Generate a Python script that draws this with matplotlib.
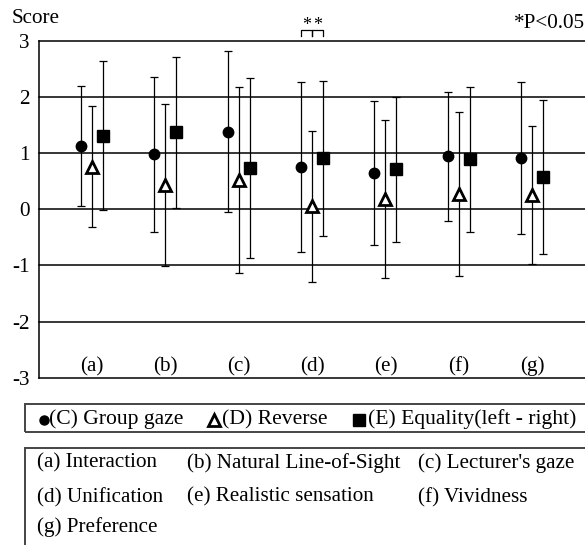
import matplotlib
matplotlib.use("Agg")
import matplotlib.pyplot as plt
import numpy as np
from matplotlib.lines import Line2D
from matplotlib.patches import Rectangle

plt.rcParams["font.family"] = ["Liberation Serif", "DejaVu Serif"]

# ---------------- data ----------------
groups = ["(a)", "(b)", "(c)", "(d)", "(e)", "(f)", "(g)"]
group_names = ["Interaction", "Natural Line-of-Sight", "Lecturer's gaze",
               "Unification", "Realistic sensation", "Vividness", "Preference"]

gaze_mean = [1.12, 0.98, 1.38, 0.75, 0.65, 0.94, 0.91]
gaze_sd = [1.07, 1.38, 1.43, 1.52, 1.28, 1.15, 1.35]

reverse_mean = [0.76, 0.43, 0.52, 0.05, 0.18, 0.27, 0.26]
reverse_sd = [1.08, 1.45, 1.66, 1.35, 1.40, 1.46, 1.23]

equal_mean = [1.31, 1.37, 0.74, 0.91, 0.71, 0.89, 0.58]
equal_sd = [1.32, 1.34, 1.60, 1.38, 1.29, 1.29, 1.37]

series_names = ["(C) Group gaze", "(D) Reverse", "(E) Equality(left - right)"]
y_ticks = [3, 2, 1, 0, -1, -2, -3]

W, H = 585, 545
FS = 15.2

fig = plt.figure(figsize=(W / 100, H / 100), dpi=100)
ax = fig.add_axes([39 / W, 1 - 377.7 / H, 1 - 39 / W, (377.7 - 40.7) / H])

x = np.arange(len(groups))
off = 0.15

styles = [
    dict(marker="o", ms=7.5, mfc="black", mec="black", mew=1),
    dict(marker="^", ms=8.5, mfc="white", mec="black", mew=2),
    dict(marker="s", ms=8, mfc="black", mec="black", mew=1),
]
means = [gaze_mean, reverse_mean, equal_mean]
sds = [gaze_sd, reverse_sd, equal_sd]

for i, (m, s, st) in enumerate(zip(means, sds, styles)):
    ax.errorbar(x + (i - 1) * off, m, yerr=s, fmt="none", ecolor="black",
                elinewidth=0.9, capsize=3, capthick=0.9, zorder=2)
    ax.plot(x + (i - 1) * off, m, linestyle="none", zorder=3, **st)

# horizontal lines
for t in y_ticks:
    ax.axhline(t, color="black", lw=1.1, zorder=1, clip_on=False)

ax.set_xlim(-0.72, 6.72)
ax.set_ylim(-3, 3)
ax.set_yticks(y_ticks)
ax.set_yticklabels([str(t) for t in y_ticks], fontsize=FS)
ax.tick_params(axis="y", length=0, pad=6.5)
ax.set_xticks([])
for sp in ["top", "right", "bottom"]:
    ax.spines[sp].set_visible(False)
ax.spines["left"].set_linewidth(1.1)

for xi, g in zip(x, groups):
    ax.text(xi, -2.8, g, ha="center", va="center", fontsize=FS)

# significance brackets on (d)
d = 3
for a, b in [(d - off, d), (d, d + off)]:
    ax.plot([a, a, b, b], [3.08, 3.19, 3.19, 3.08], color="black", lw=0.9, clip_on=False)
    ax.text((a + b) / 2, 3.27, "*", ha="center", va="center", fontsize=13, clip_on=False)

fig.text(12 / W, 1 - 18.3 / H, "Score", ha="left", va="center", fontsize=FS)
fig.text(1.0, 1 - 23.3 / H, "*P<0.05", ha="right", va="center", fontsize=FS)

# ---------------- legend box (series) ----------------
fig.add_artist(Rectangle((25.3 / W, 1 - 432 / H), 600 / W, 28 / H, transform=fig.transFigure,
                         fill=False, edgecolor="#444444", lw=1.4, clip_on=False))
leg_y = 1 - 419.5 / H
mark_x = [44 / W, 214.5 / W, 359 / W]
text_x = [49 / W, 222 / W, 368 / W]
leg_styles = [
    dict(marker="o", ms=6.5, mfc="black", mec="black", mew=1),
    dict(marker="^", ms=8, mfc="white", mec="black", mew=2),
    dict(marker="s", ms=8, mfc="black", mec="black", mew=1),
]
for mx, tx, name, st in zip(mark_x, text_x, series_names, leg_styles):
    fig.add_artist(Line2D([mx], [leg_y], transform=fig.transFigure, linestyle="none", **st))
    fig.text(tx, leg_y, name, ha="left", va="center", fontsize=FS + 0.4)

# ---------------- legend box (categories) ----------------
fig.add_artist(Rectangle((25.3 / W, -0.05), 600 / W, 0.05 + 1 - 448 / H, transform=fig.transFigure,
                         fill=False, edgecolor="#444444", lw=1.4, clip_on=False))
col_x = [37.3, 186.7, 418.3]
row_y = [462.7, 497.3, 526.7]
for k, (g, name) in enumerate(zip(groups, group_names)):
    fig.text(col_x[k % 3] / W, 1 - row_y[k // 3] / H, f"{g} {name}",
             ha="left", va="center", fontsize=FS)

fig.savefig("out.png", dpi=100)
